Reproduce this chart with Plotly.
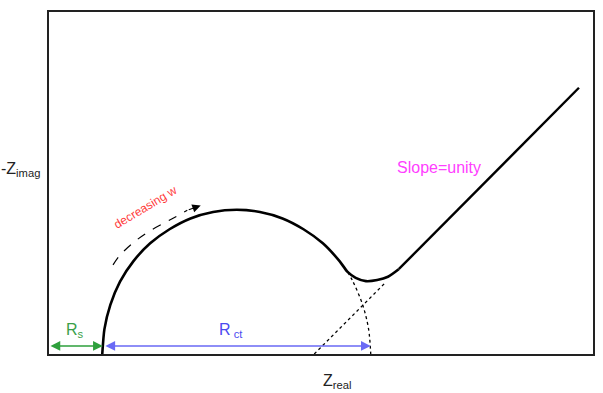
import plotly.graph_objects as go

# Schematic Nyquist plot (units: Rs = 1, Rct = 5)
Rs = 1.0
Rct = 5.0

# solid impedance curve
curve_x = [0.99, 1.03, 1.14, 1.32, 1.57, 1.88, 2.24, 2.63, 3.05, 3.49, 3.92, 4.34, 4.73, 5.09, 5.40, 5.55, 5.70, 5.89, 6.10, 6.30, 6.50]
curve_y = [0.00, 0.46, 0.91, 1.34, 1.72, 2.05, 2.31, 2.51, 2.63, 2.67, 2.63, 2.51, 2.31, 2.05, 1.72, 1.52, 1.41, 1.35, 1.37, 1.43, 1.57]
# diffusion (Warburg) straight line
line_x = [6.50, 9.85]
line_y = [1.57, 4.93]
# dashed continuation of semicircle
circ_x = [5.55, 5.65, 5.83, 5.94, 5.98]
circ_y = [1.52, 1.34, 0.91, 0.46, 0.00]
# dashed extension of the unity-slope line
ext_x = [4.93, 6.25]
ext_y = [0.00, 1.32]
# decreasing-frequency arc
arc_x = [1.19, 1.31, 1.59, 1.91, 2.28, 2.57]
arc_y = [1.65, 1.82, 2.08, 2.30, 2.50, 2.66]
arc_tip = (2.82, 2.75)

font = "Liberation Sans, Arial, sans-serif"

fig = go.Figure()
fig.add_trace(go.Scatter(x=curve_x, y=curve_y, mode="lines",
                         line=dict(color="black", width=2.6, shape="spline", smoothing=0.6),
                         hoverinfo="skip"))
fig.add_trace(go.Scatter(x=line_x, y=line_y, mode="lines",
                         line=dict(color="black", width=2.4), hoverinfo="skip"))
fig.add_trace(go.Scatter(x=circ_x, y=circ_y, mode="lines",
                         line=dict(color="black", width=1.3, dash="dot", shape="spline"),
                         hoverinfo="skip"))
fig.add_trace(go.Scatter(x=ext_x, y=ext_y, mode="lines",
                         line=dict(color="black", width=1.3, dash="dot"), hoverinfo="skip"))
fig.add_trace(go.Scatter(x=arc_x, y=arc_y, mode="lines",
                         line=dict(color="black", width=1.2, dash="dash", shape="spline"),
                         hoverinfo="skip"))

annotations = [
    # arrow head of the decreasing-omega arc
    dict(x=arc_tip[0], y=arc_tip[1], ax=arc_x[-1], ay=arc_y[-1], xref="x", yref="y",
         axref="x", ayref="y", text="", showarrow=True, arrowhead=2, arrowsize=1.4,
         arrowwidth=1.2, arrowcolor="black"),
    # Rs arrow
    dict(x=Rs, y=0.15, ax=0.0, ay=0.15, xref="x", yref="y", axref="x", ayref="y",
         text="", showarrow=True, arrowhead=2, arrowside="end+start", arrowsize=1.3,
         arrowwidth=1.5, arrowcolor="#2ea03c"),
    # Rct arrow
    dict(x=Rs + Rct - 0.02, y=0.15, ax=Rs + 0.02, ay=0.15, xref="x", yref="y", axref="x", ayref="y",
         text="", showarrow=True, arrowhead=2, arrowside="end+start", arrowsize=1.3,
         arrowwidth=1.5, arrowcolor="#6a6af5"),
    dict(x=0.48, y=0.44, xref="x", yref="y", text="R<sub>s</sub>", showarrow=False,
         font=dict(family=font, size=16, color="#3aa048")),
    dict(x=3.38, y=0.43, xref="x", yref="y", text="R<sub> ct</sub>", showarrow=False,
         font=dict(family=font, size=16, color="#4a4af0")),
    dict(x=7.24, y=3.46, xref="x", yref="y", text="Slope=unity", showarrow=False,
         font=dict(family=font, size=16, color="#ff40ff")),
    dict(x=1.80, y=2.72, xref="x", yref="y", text="decreasing w", showarrow=False,
         textangle=-31, font=dict(family=font, size=12, color="#ff3a3a")),
    dict(x=-0.012, y=0.54, xref="paper", yref="paper", text="-Z<sub>imag</sub>", showarrow=False,
         xanchor="right", yanchor="middle", font=dict(family=font, size=16, color="#222")),
    dict(x=0.53, y=-0.08, xref="paper", yref="paper", text="Z<sub>real</sub>", showarrow=False,
         xanchor="center", yanchor="middle", font=dict(family=font, size=16, color="#222")),
]

fig.update_layout(
    width=603, height=393,
    margin=dict(l=49, r=8, t=12, b=39),
    paper_bgcolor="white", plot_bgcolor="white",
    showlegend=False,
    annotations=annotations,
    xaxis=dict(range=[0, 10.111], showgrid=False, zeroline=False, showticklabels=False,
               ticks="", showline=True, linecolor="#222", linewidth=2, mirror=True, fixedrange=True),
    yaxis=dict(range=[0, 6.333], showgrid=False, zeroline=False, showticklabels=False,
               ticks="", showline=True, linecolor="#222", linewidth=2, mirror=True, fixedrange=True),
)

fig.write_html("out.html", config={"displayModeBar": False})
